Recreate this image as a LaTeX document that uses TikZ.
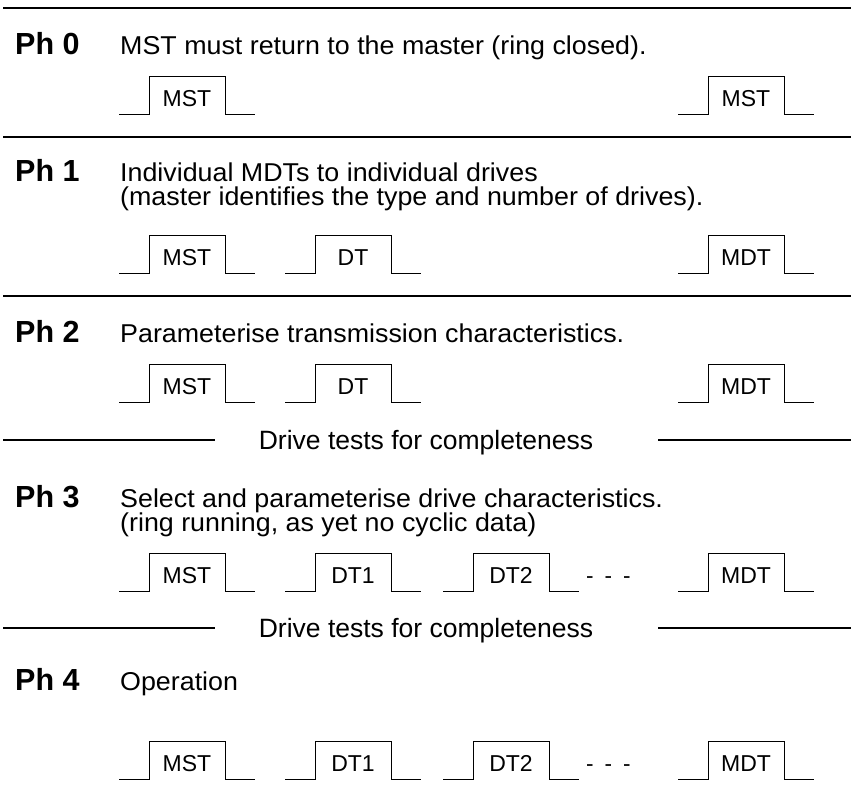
\documentclass[tikz,border=0pt]{standalone}
\usepackage{fontspec}
\setmainfont{Liberation Sans}
\newfontfamily\descfont[FakeStretch=1.04]{Liberation Sans}
\begin{document}
\begin{tikzpicture}[x=1pt,y=-1pt,
  rule/.style={line width=1.8pt},
  testrule/.style={line width=1.6pt},
  wave/.style={line width=0.9pt},
  phase/.style={anchor=base west,inner sep=0pt,font=\fontsize{30.5}{31}\bfseries\selectfont},
  desc/.style={anchor=base west,inner sep=0pt,font=\descfont\fontsize{25.8}{27}\selectfont},
  tests/.style={anchor=base,inner sep=0pt,font=\fontsize{26.5}{28}\selectfont},
  plabel/.style={anchor=base,inner sep=0pt,font=\fontsize{23}{24}\selectfont},
  dots/.style={anchor=base west,inner sep=0pt,font=\fontsize{22.5}{24}\selectfont}]
\useasboundingbox (0,0) rectangle (853,796);
\newcommand\pulsewave[4]{%
  \draw[wave] (#2-30,#3) -- (#2,#3) -- (#2,#3-38) -- (#2+76,#3-38) -- (#2+76,#3) -- (#2+106,#3);
  \node[plabel] (#1) at (#2+38,#3-8) {#4};}
\newcommand\dashrun[3]{\node[dots] (#1) at (#2,#3-8) {\spaceskip=11pt - - -};}
% rules
\coordinate (r0a) at (3,8);   \coordinate (r0b) at (851,8);
\coordinate (r1a) at (3,137); \coordinate (r1b) at (851,137);
\coordinate (r2a) at (3,296); \coordinate (r2b) at (851,296);
\draw[rule] (r0a) -- (r0b);
\draw[rule] (r1a) -- (r1b);
\draw[rule] (r2a) -- (r2b);
% Ph 0
\node[phase] (p0) at (15,54) {Ph 0};
\node[desc] (d0) at (120,54) {MST must return to the master (ring closed).};
\pulsewave{a0}{149}{114}{MST}
\pulsewave{a1}{708}{114}{MST}
% Ph 1
\node[phase] (p1) at (15,181) {Ph 1};
\node[desc] (d1) at (120,181) {Individual MDTs to individual drives};
\node[desc] (d1b) at (120,205) {(master identifies the type and number of drives).};
\pulsewave{b0}{149}{273}{MST}
\pulsewave{b1}{315}{273}{DT}
\pulsewave{b2}{708}{273}{MDT}
% Ph 2
\node[phase] (p2) at (15,342) {Ph 2};
\node[desc] (d2) at (120,342) {Parameterise transmission characteristics.};
\pulsewave{c0}{149}{402}{MST}
\pulsewave{c1}{315}{402}{DT}
\pulsewave{c2}{708}{402}{MDT}
% tests 1
\node[tests] (t1) at (426,449) {Drive tests for completeness};
\coordinate (t1a) at (3,440); \coordinate (t1b) at (215,440);
\coordinate (t1c) at (658,440); \coordinate (t1d) at (851,440);
\draw[testrule] (t1a) -- (t1b);
\draw[testrule] (t1c) -- (t1d);
% Ph 3
\node[phase] (p3) at (15,507) {Ph 3};
\node[desc] (d3) at (120,507) {Select and parameterise drive characteristics.};
\node[desc] (d3b) at (120,531) {(ring running, as yet no cyclic data)};
\pulsewave{e0}{149}{591}{MST}
\pulsewave{e1}{315}{591}{DT1}
\pulsewave{e2}{473}{591}{DT2}
\dashrun{e3}{586}{591}
\pulsewave{e4}{708}{591}{MDT}
% tests 2
\node[tests] (t2) at (426,637) {Drive tests for completeness};
\coordinate (t2a) at (3,628); \coordinate (t2b) at (215,628);
\coordinate (t2c) at (658,628); \coordinate (t2d) at (851,628);
\draw[testrule] (t2a) -- (t2b);
\draw[testrule] (t2c) -- (t2d);
% Ph 4
\node[phase] (p4) at (15,690) {Ph 4};
\node[desc] (d4) at (120,690) {Operation};
\pulsewave{f0}{149}{779}{MST}
\pulsewave{f1}{315}{779}{DT1}
\pulsewave{f2}{473}{779}{DT2}
\dashrun{f3}{586}{779}
\pulsewave{f4}{708}{779}{MDT}
\end{tikzpicture}
\end{document}
